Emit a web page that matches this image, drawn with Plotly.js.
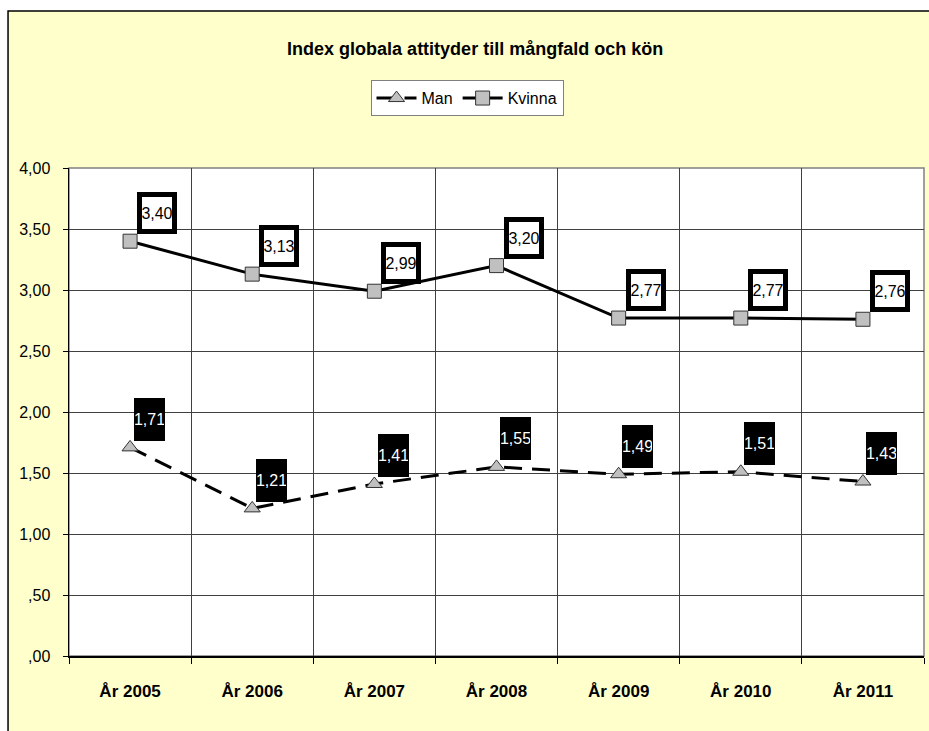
<!DOCTYPE html>
<html>
<head>
<meta charset="utf-8">
<script src="https://cdn.plot.ly/plotly-3.0.1.min.js"></script>
<style>
  html, body { margin: 0; padding: 0; background: #ffffff; }
  #chart { width: 929px; height: 731px; }
</style>
</head>
<body>
<div id="chart"></div>
<script>
// Data
const YEARS = ['År 2005', 'År 2006', 'År 2007', 'År 2008', 'År 2009', 'År 2010', 'År 2011'];
const MAN = [1.71, 1.21, 1.41, 1.55, 1.49, 1.51, 1.43];
const KVINNA = [3.40, 3.13, 2.99, 3.20, 2.77, 2.77, 2.76];
const Y_TICKS = [0, 0.5, 1, 1.5, 2, 2.5, 3, 3.5, 4];
const Y_TICK_TEXT = [',00', ',50', '1,00', '1,50', '2,00', '2,50', '3,00', '3,50', '4,00'];

const FONT = '"Liberation Sans Narrow", "Arial Narrow", "Liberation Sans", Arial, sans-serif';

// Swedish style decimal label, e.g. 3.4 -> "3,40"
function FormatValue(v) {
  return v.toFixed(2).replace('.', ',');
}

const traces = [
  {
    x: YEARS, y: MAN, name: 'Man', type: 'scatter', mode: 'lines+markers',
    line: {color: '#000000', width: 3, dash: '18px,10px'},
    marker: {symbol: 'triangle-up', size: 14, color: '#c0c0c0', line: {color: '#333333', width: 1}},
    hoverinfo: 'skip'
  },
  {
    x: YEARS, y: KVINNA, name: 'Kvinna', type: 'scatter', mode: 'lines+markers',
    line: {color: '#000000', width: 3},
    marker: {symbol: 'square', size: 14, color: '#c0c0c0', line: {color: '#333333', width: 1}},
    hoverinfo: 'skip'
  }
];

// Value labels: white box with thick black border for Kvinna, black box for Man
let annotations = [];
for (let i = 0; i < YEARS.length; ++i) {
  annotations.push({
    x: YEARS[i], y: KVINNA[i], xref: 'x', yref: 'y',
    text: FormatValue(KVINNA[i]), showarrow: false,
    xshift: 27, yshift: 28,
    font: {family: FONT, size: 16, color: '#000000'},
    bgcolor: '#ffffff', bordercolor: '#000000', borderwidth: 5, borderpad: 0,
    width: 30, height: 32
  });
  annotations.push({
    x: YEARS[i], y: MAN[i], xref: 'x', yref: 'y',
    text: FormatValue(MAN[i]), showarrow: false,
    xshift: 19, yshift: 28,
    font: {family: FONT, size: 16, color: '#ffffff'},
    bgcolor: '#000000', bordercolor: '#000000', borderwidth: 1, borderpad: 0,
    width: 29, height: 41
  });
}

const layout = {
  width: 929,
  height: 731,
  margin: {l: 69, r: 5, t: 168, b: 75},
  paper_bgcolor: '#ffffff',
  plot_bgcolor: '#ffffff',
  font: {family: FONT, size: 16, color: '#000000'},
  title: {
    text: '<b>Index globala attityder till mångfald och kön</b>',
    font: {family: FONT, size: 18, color: '#000000'},
    xref: 'paper', x: 0.475, xanchor: 'center',
    yref: 'container', y: 0.933, yanchor: 'middle'
  },
  showlegend: true,
  legend: {
    orientation: 'h',
    x: 0.4655, xanchor: 'center',
    y: 1.18, yanchor: 'top',
    bgcolor: '#ffffff', bordercolor: '#808080', borderwidth: 1,
    font: {family: FONT, size: 16, color: '#000000'},
    itemwidth: 40,
    itemclick: false, itemdoubleclick: false
  },
  xaxis: {
    type: 'category',
    range: [-0.5, 6.5],
    tickson: 'boundaries',
    ticks: 'outside', ticklen: 6, tickcolor: '#000000',
    showgrid: true, gridcolor: '#404040', gridwidth: 1,
    showline: true, linecolor: '#000000', linewidth: 1.5,
    tickfont: {family: FONT, size: 17, color: '#000000', weight: 'bold'},
    ticklabelstandoff: 19,
    zeroline: false, fixedrange: true
  },
  yaxis: {
    range: [0, 4],
    tickvals: Y_TICKS,
    ticktext: Y_TICK_TEXT,
    ticks: 'outside', ticklen: 5, tickcolor: '#000000',
    showgrid: true, gridcolor: '#404040', gridwidth: 1,
    showline: true, linecolor: '#000000', linewidth: 1.5,
    tickfont: {family: FONT, size: 16, color: '#000000'},
    ticklabelstandoff: 9,
    zeroline: false, fixedrange: true
  },
  shapes: [
    // yellow chart frame
    {type: 'rect', xref: 'paper', yref: 'paper', layer: 'below',
     x0: -0.0713, x1: 1.2, y0: -0.4, y1: 1.3217,
     fillcolor: '#ffffcc', line: {color: '#000000', width: 1.5}},
    // white plot area with grey border
    {type: 'rect', xref: 'paper', yref: 'paper', layer: 'below',
     x0: 0, x1: 1, y0: 0, y1: 1,
     fillcolor: '#ffffff', line: {color: '#808080', width: 1.5}}
  ],
  annotations: annotations
};

Plotly.newPlot('chart', traces, layout, {displayModeBar: false, staticPlot: true});
</script>
</body>
</html>
